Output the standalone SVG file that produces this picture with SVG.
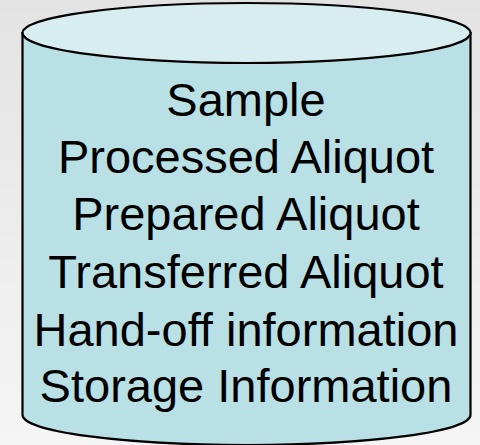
<svg xmlns="http://www.w3.org/2000/svg" width="480" height="445" viewBox="0 0 480 445">
<defs>
<linearGradient id="bg" x1="0" y1="0" x2="0" y2="1">
<stop offset="0" stop-color="#e3e3e3"/>
<stop offset="1" stop-color="#f5f5f5"/>
</linearGradient>
</defs>
<style>
.body{fill:#b9e0e4;stroke:#000;stroke-width:2.2}
.top{fill:#d8edf0;stroke:#000;stroke-width:2.2}
.t{font-family:"Liberation Sans",Arial,sans-serif;font-size:47px;fill:#000;text-anchor:middle}
</style>
<rect width="480" height="445" fill="url(#bg)"/>
<g id="database">
<path class="body" d="M22.5,33 L22.5,415 A224,30 0 0 0 470.5,415 L470.5,33 Z"/>
<ellipse class="top" cx="246.5" cy="33" rx="224" ry="30"/>
<text class="t" x="246" y="116">Sample</text>
<text class="t" x="246" y="173">Processed Aliquot</text>
<text class="t" x="246" y="230">Prepared Aliquot</text>
<text class="t" x="246" y="288">Transferred Aliquot</text>
<text class="t" x="246" y="345.5">Hand-off information</text>
<text class="t" x="246" y="402">Storage Information</text>
</g>
</svg>
